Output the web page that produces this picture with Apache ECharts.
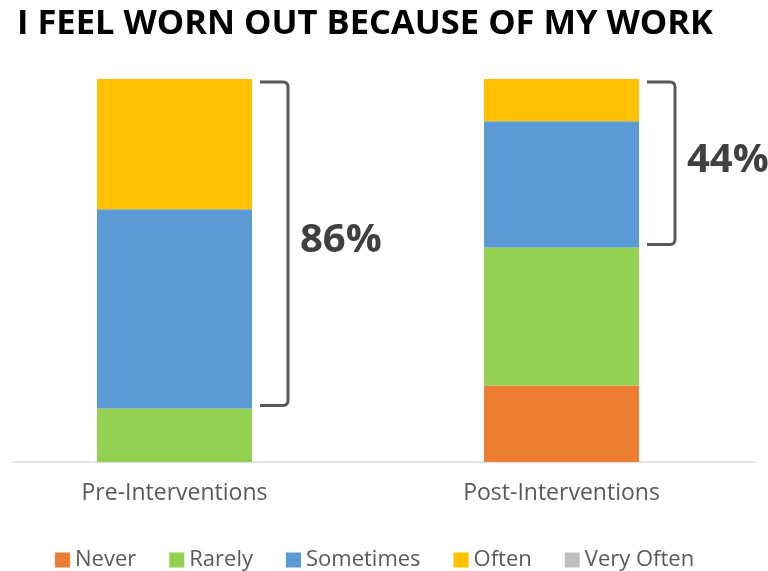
<!DOCTYPE html>
<html>
<head>
<meta charset="utf-8">
<script src="https://cdn.jsdelivr.net/npm/echarts@6/dist/echarts.min.js"></script>
<style>html,body{margin:0;padding:0;background:#fff;}#c{width:768px;height:571px;}</style>
</head>
<body>
<div id="c"></div>
<script>
const titleText = 'I FEEL WORN OUT BECAUSE OF MY WORK';
const categories = ['Pre-Interventions', 'Post-Interventions'];
const never = [0, 20];
const rarely = [14, 36];
const sometimes = [52, 33];
const often = [34, 11];
const veryOften = [0, 0];
const seriesNames = ['Never', 'Rarely', 'Sometimes', 'Often', 'Very Often'];
const colors = ['#ED7D31', '#92D050', '#5B9BD5', '#FFC000', '#BFBFBF'];

const FONT = '"Open Sans", sans-serif';
const chart = echarts.init(document.getElementById('c'));

const values = [never, rarely, sometimes, often, veryOften];
const barSeries = values.map((v, i) => ({
  name: seriesNames[i], type: 'bar', stack: 'total', data: v,
  barWidth: 155, itemStyle: { color: colors[i] }, xAxisIndex: 0, yAxisIndex: 0
}));

// bracket spans: Sometimes + Often + Very Often
const bracketData = categories.map((c, i) => {
  const hi = never[i] + rarely[i] + sometimes[i] + often[i] + veryOften[i];
  const lo = never[i] + rarely[i];
  return [i, lo, hi, (hi - lo) + '%'];
});

chart.setOption({
  backgroundColor: '#fff',
  animation: false,
  title: { text: titleText, left: 12, top: 2,
    textStyle: { fontFamily: FONT, fontWeight: 'bold', fontSize: 34.5, color: '#000' } },
  legend: {
    data: seriesNames, left: 50, top: 544, itemWidth: 15, itemHeight: 15, itemGap: 33,
    icon: 'rect',
    textStyle: { fontFamily: FONT, fontSize: 22, color: '#595959' }
  },
  grid: [
    { left: -19, right: 13, top: 79, bottom: 109, outerBoundsMode: 'none' },
    { left: 13, right: 13, top: 79, bottom: 109, outerBoundsMode: 'none' }
  ],
  xAxis: [
    { type: 'category', data: categories, gridIndex: 0,
      axisLine: { show: false }, axisTick: { show: false },
      axisLabel: { margin: 20, fontFamily: FONT, fontSize: 23, color: '#595959' } },
    { type: 'value', gridIndex: 1, min: 0, max: 1,
      axisLine: { show: true, lineStyle: { color: '#D9D9D9', width: 1.5 } },
      axisTick: { show: false }, axisLabel: { show: false }, splitLine: { show: false } }
  ],
  yAxis: [
    { type: 'value', min: 0, max: 100, gridIndex: 0, show: false },
    { type: 'value', min: 0, max: 1, gridIndex: 1, show: false }
  ],
  series: barSeries.concat([{
    type: 'custom', xAxisIndex: 0, yAxisIndex: 0, silent: true,
    data: bracketData,
    renderItem: function (params, api) {
      const cat = api.value(0);
      const top = api.coord([cat, api.value(2)]);
      const bot = api.coord([cat, api.value(1)]);
      const bw = 155;
      const x0 = top[0] + bw / 2 + 8;
      const x1 = x0 + 28;
      const ty = top[1] + 3, by = bot[1] - 3, r = 5;
      const d = 'M' + x0 + ' ' + ty + ' L' + (x1 - r) + ' ' + ty +
        ' Q' + x1 + ' ' + ty + ' ' + x1 + ' ' + (ty + r) +
        ' L' + x1 + ' ' + (by - r) +
        ' Q' + x1 + ' ' + by + ' ' + (x1 - r) + ' ' + by +
        ' L' + x0 + ' ' + by;
      return {
        type: 'group',
        children: [
          { type: 'path', shape: { pathData: d },
            style: { fill: null, stroke: '#595959', lineWidth: 3 } },
          { type: 'text', x: x1 + 12, y: (ty + by) / 2 - 3,
            style: { text: api.value(3), fontFamily: FONT, fontWeight: 'bold', fontSize: 40,
              fill: '#404040', align: 'left', verticalAlign: 'middle' } }
        ]
      };
    }
  }])
});
</script>
</body>
</html>
